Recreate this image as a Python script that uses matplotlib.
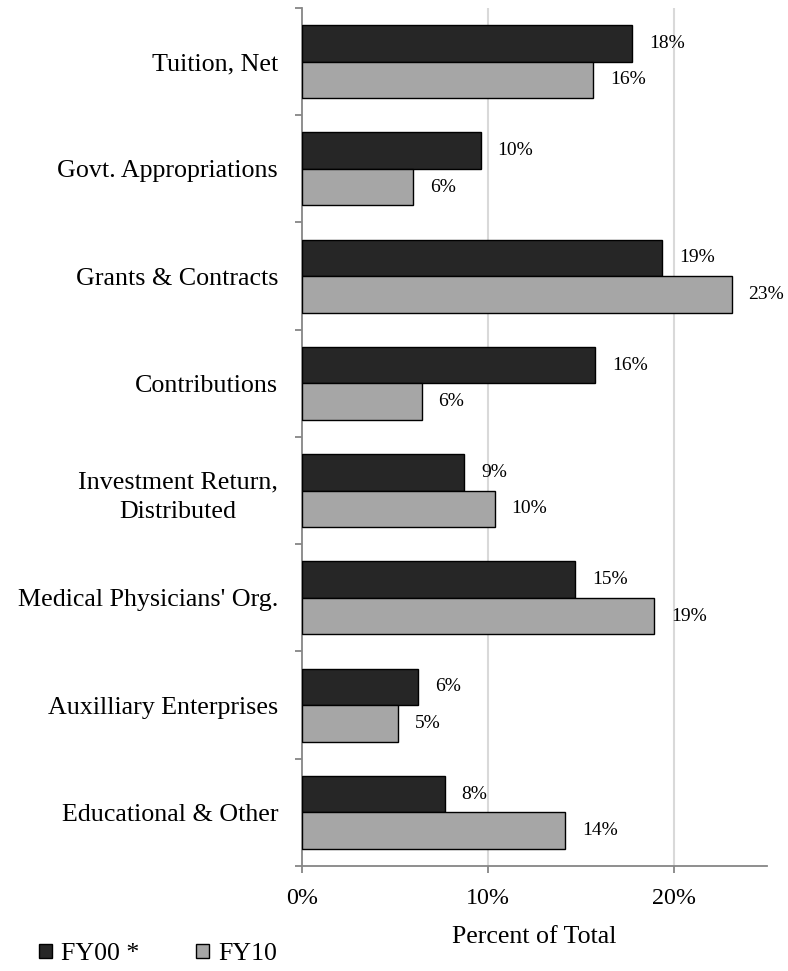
import matplotlib
matplotlib.use('Agg')
import matplotlib.pyplot as plt
import numpy as np
from matplotlib.patches import Patch
from matplotlib.ticker import FixedLocator, FuncFormatter

plt.rcParams['font.family'] = ['Liberation Serif', 'DejaVu Serif']

CATEGORIES = [
    'Tuition, Net',
    'Govt. Appropriations',
    'Grants & Contracts',
    'Contributions',
    'Investment Return,\nDistributed',
    "Medical Physicians' Org.",
    'Auxilliary Enterprises',
    'Educational & Other',
]
FY00 = [17.75, 9.62, 19.37, 15.77, 8.73, 14.69, 6.27, 7.68]
FY10 = [15.66, 5.98, 23.10, 6.45, 10.36, 18.95, 5.16, 14.16]
SERIES_NAMES = ['FY00 *', 'FY10']
X_TICKS = [0, 10, 20]

COLORS = ['#262626', '#a6a6a6']
AXIS_GRAY = '#868686'
GRID_GRAY = '#d9d9d9'

fig = plt.figure(figsize=(7.88, 9.71), dpi=100)
ax = fig.add_axes([0.383, 0.1082, 0.5904, 0.8836])

n = len(CATEGORIES)
centers = np.arange(n)[::-1] + 0.5
bar_h = 0.34

for vals, offset, color in ((FY00, bar_h / 2, COLORS[0]), (FY10, -bar_h / 2, COLORS[1])):
    ax.barh(centers + offset, vals, height=bar_h, color=color,
            edgecolor='black', linewidth=1.0, zorder=3)
    for y, v in zip(centers + offset, vals):
        ax.annotate(f'{v:.0f}%', (v, y), xytext=(12, 0), textcoords='offset points',
                    va='center', ha='left', fontsize=14)

ax.set_xlim(0, 25)
ax.set_ylim(0, n)

ax.xaxis.set_major_locator(FixedLocator(X_TICKS))
ax.xaxis.set_major_formatter(FuncFormatter(lambda v, p: f'{v:.0f}%'))
ax.tick_params(axis='x', length=5, width=1.3, color=AXIS_GRAY, labelsize=17.3, pad=11)
for x in X_TICKS[1:]:
    ax.axvline(x, color=GRID_GRAY, linewidth=1.5, zorder=0)

ax.yaxis.set_major_locator(FixedLocator(np.arange(n + 1)))
ax.yaxis.set_major_formatter(FuncFormatter(lambda v, p: ''))
ax.yaxis.set_minor_locator(FixedLocator(centers))
ylabels = ax.set_yticklabels(CATEGORIES, minor=True, fontsize=18.7, linespacing=1.45)
for t in ylabels:
    t.set_multialignment('center')
ax.tick_params(axis='y', which='major', length=5, width=1.3, color=AXIS_GRAY)
ax.tick_params(axis='y', which='minor', length=0, pad=17)

for side in ('top', 'right'):
    ax.spines[side].set_visible(False)
for side in ('left', 'bottom'):
    ax.spines[side].set_color(AXIS_GRAY)
    ax.spines[side].set_linewidth(1.3)

ax.set_xlabel('Percent of Total', fontsize=18.6, labelpad=12)

handles = [Patch(facecolor=c, edgecolor='black', linewidth=1.0, label=s)
           for c, s in zip(COLORS, SERIES_NAMES)]
fig.legend(handles=handles, loc='lower left', bbox_to_anchor=(0.02, -0.018),
           ncol=2, frameon=False, fontsize=18.6, handlelength=0.5, handleheight=0.5,
           handletextpad=0.35, columnspacing=2.2)

fig.savefig('out.png', dpi=100)
